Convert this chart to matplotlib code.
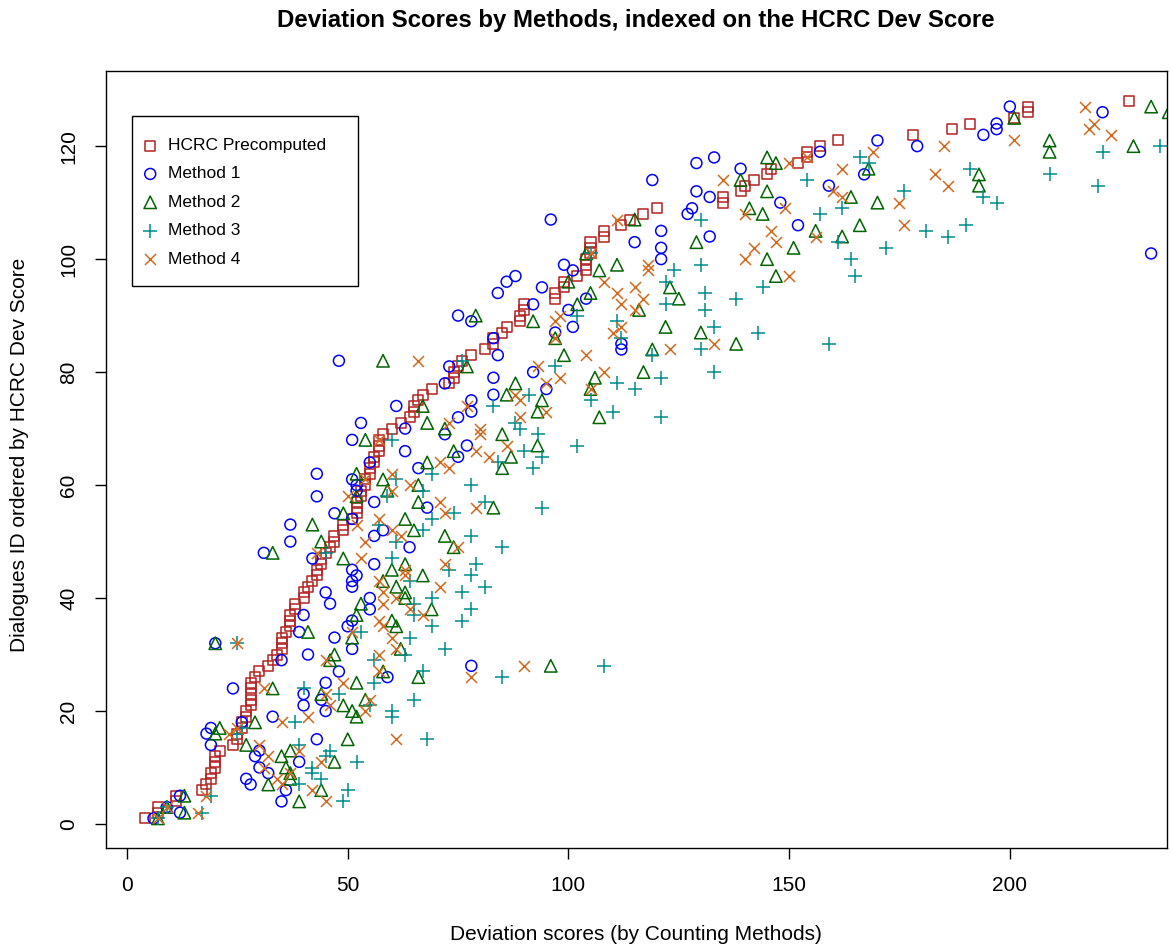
import numpy as np
import matplotlib.pyplot as plt
from matplotlib.patches import Rectangle

plt.rcParams['font.family'] = ['Liberation Sans', 'DejaVu Sans']

# Dialogue IDs, ordered by the HCRC precomputed deviation score
dialogue_id = np.arange(1, 129)

hcrc = [4, 7, 7, 11, 11, 17, 18, 19, 19, 20,
        20, 20, 21, 24, 25, 25, 26, 26, 27, 27,
        28, 28, 28, 28, 28, 29, 30, 32, 33, 34,
        35, 35, 35, 36, 37, 37, 37, 38, 38, 40,
        40, 41, 42, 43, 43, 44, 44, 45, 46, 47,
        47, 49, 49, 51, 52, 52, 52, 53, 53, 54,
        54, 55, 55, 56, 56, 57, 57, 57, 58, 60,
        62, 64, 65, 65, 66, 67, 69, 73, 74, 74,
        75, 76, 78, 81, 83, 83, 85, 86, 89, 89,
        90, 90, 97, 97, 99, 99, 102, 104, 104, 104,
        105, 105, 105, 108, 108, 112, 114, 117, 120, 135,
        135, 139, 140, 142, 145, 146, 152, 154, 154, 157,
        161, 178, 187, 191, 201, 204, 204, 227]

method1 = [6, 12, 9, 35, 12, 36, 28, 27, 32, 30,
           39, 29, 30, 19, 43, 18, 19, 26, 33, 45,
           40, 44, 40, 24, 45, 59, 48, 78, 35, 41,
           51, 20, 47, 39, 50, 51, 40, 55, 46, 55,
           45, 51, 51, 52, 51, 56, 42, 31, 64, 37,
           56, 58, 37, 51, 47, 68, 56, 43, 52, 52,
           51, 43, 66, 55, 75, 63, 77, 51, 72, 63,
           53, 75, 78, 61, 78, 83, 95, 72, 83, 92,
           73, 48, 84, 112, 112, 83, 97, 101, 78, 75,
           100, 92, 104, 84, 94, 86, 88, 101, 99, 121,
           232, 121, 115, 132, 121, 152, 96, 127, 128, 148,
           132, 129, 159, 119, 167, 139, 129, 133, 157, 179,
           170, 194, 197, 197, 240, 221, 200, 245]

method2 = [7, 13, 9, 39, 13, 44, 32, 37, 37, 36,
           47, 35, 37, 27, 50, 20, 21, 29, 52, 51,
           49, 54, 44, 33, 52, 66, 58, 96, 46, 47,
           62, 20, 51, 41, 61, 60, 52, 69, 53, 63,
           63, 61, 58, 67, 60, 63, 49, 33, 74, 44,
           72, 65, 42, 63, 49, 83, 66, 52, 59, 66,
           58, 52, 85, 68, 87, 74, 93, 54, 85, 72,
           68, 107, 93, 67, 94, 86, 105, 88, 106, 117,
           77, 58, 99, 119, 138, 97, 130, 122, 92, 79,
           116, 102, 125, 105, 123, 100, 147, 107, 111, 145,
           104, 151, 129, 162, 156, 166, 115, 144, 141, 170,
           164, 145, 193, 139, 193, 168, 147, 145, 209, 228,
           209, 240, 242, 245, 201, 236, 232, 248]

method3 = [7, 17, 9, 49, 19, 50, 39, 44, 42, 42,
           52, 45, 46, 39, 68, 25, 26, 38, 60, 60,
           55, 65, 48, 40, 56, 85, 67, 108, 56, 63,
           72, 25, 64, 53, 69, 76, 65, 78, 65, 69,
           76, 81, 64, 78, 73, 79, 60, 45, 85, 61,
           78, 67, 57, 69, 74, 94, 81, 59, 67, 78,
           61, 69, 92, 84, 94, 90, 102, 60, 93, 89,
           88, 121, 110, 83, 105, 91, 115, 111, 121, 133,
           97, 76, 119, 130, 159, 112, 143, 133, 111, 102,
           131, 122, 138, 131, 144, 122, 165, 124, 130, 164,
           105, 172, 161, 186, 181, 190, 130, 157, 162, 197,
           194, 176, 220, 154, 209, 191, 168, 166, 221, 234,
           240, 243, 246, 248, 250, 252, 255, 258]

method4 = [7, 16, 9, 45, 18, 42, 35, 34, 37, 31,
           44, 32, 39, 30, 61, 23, 25, 35, 41, 54,
           46, 55, 45, 31, 49, 78, 57, 90, 45, 57,
           61, 25, 60, 51, 58, 57, 67, 64, 58, 61,
           58, 71, 57, 63, 63, 72, 53, 43, 75, 54,
           62, 60, 52, 57, 72, 79, 71, 50, 60, 64,
           54, 60, 73, 71, 82, 79, 86, 57, 80, 80,
           73, 89, 95, 77, 89, 88, 105, 95, 98, 108,
           93, 66, 104, 123, 133, 97, 110, 112, 97, 98,
           115, 112, 117, 111, 115, 108, 150, 118, 118, 140,
           105, 142, 147, 156, 146, 176, 111, 140, 149, 175,
           162, 160, 186, 135, 183, 162, 150, 154, 169, 185,
           201, 223, 218, 219, 240, 245, 217, 250]

series = [
    ("HCRC Precomputed", hcrc, "s", "#B22222", 52),
    ("Method 1", method1, "o", "#0000FF", 62),
    ("Method 2", method2, "^", "#006400", 80),
    ("Method 3", method3, "+", "#008B8B", 110),
    ("Method 4", method4, "x", "#D2691E", 62),
]

W, H = 1171, 948
fig = plt.figure(figsize=(W / 100, H / 100), dpi=100)
ax = fig.add_axes([106 / W, 100 / H, 1061 / W, 777 / H])

for label, xs, marker, color, size in series:
    if marker in ("+", "x"):
        ax.scatter(xs, dialogue_id, marker=marker, s=size, c=color,
                   linewidths=1.1, label=label)
    else:
        ax.scatter(xs, dialogue_id, marker=marker, s=size, facecolors="none",
                   edgecolors=color, linewidths=1.1, label=label)

ax.set_xlim(-4.76, 235.6)
ax.set_ylim(-4.25, 133.3)
ax.set_xticks([0, 50, 100, 150, 200])
ax.set_yticks([0, 20, 40, 60, 80, 100, 120])
ax.tick_params(length=8, width=1, labelsize=15, pad=12)
for lbl in ax.get_yticklabels():
    lbl.set_rotation(90)
    lbl.set_va("center")
for sp in ax.spines.values():
    sp.set_linewidth(1)

fig.text(636 / W, 1 - 20 / H, "Deviation Scores by Methods, indexed on the HCRC Dev Score",
         ha="center", va="center", fontsize=17.3, fontweight="bold")
fig.text(636 / W, 13 / H, "Deviation scores (by Counting Methods)",
         ha="center", va="center", fontsize=15)
fig.text(20 / W, 1 - 455 / H, "Dialogues ID ordered by HCRC Dev Score",
         ha="center", va="center", fontsize=15, rotation=90)

# legend box drawn separately so its size can be set in pixels
def px_to_ax(px, py):
    return (px - 106) / 1061, (848 - py) / 777

x0, y0 = px_to_ax(132, 286)
x1, y1 = px_to_ax(358, 116)
ax.add_patch(Rectangle((x0, y0), x1 - x0, y1 - y0, transform=ax.transAxes,
                       facecolor="white", edgecolor="black", linewidth=1, zorder=5))

leg = ax.legend(loc="upper left", bbox_to_anchor=px_to_ax(145, 138),
                borderaxespad=0, borderpad=0, frameon=False, fontsize=12.5,
                labelspacing=0.76, handletextpad=0.73, handlelength=0.6)
leg.set_zorder(6)

fig.savefig("out.png", dpi=100)
